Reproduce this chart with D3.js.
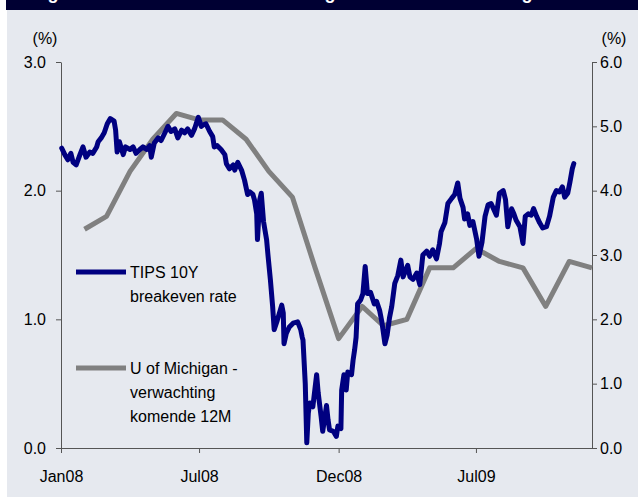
<!DOCTYPE html>
<html>
<head>
<meta charset="utf-8">
<script src="https://cdn.jsdelivr.net/npm/d3@7"></script>
<style>
  body { margin: 0; background: #fff; }
  svg { display: block; font-family: "Liberation Sans", Arial, sans-serif; }
</style>
</head>
<body>
<svg id="chart" width="638" height="499"></svg>
<script>
// TIPS 10Y breakeven rate (%), left axis
const tipsDates = [
  "2008-01-02","2008-01-06","2008-01-10","2008-01-14","2008-01-17","2008-01-21","2008-01-26","2008-01-30",
  "2008-02-03","2008-02-08","2008-02-12","2008-02-17","2008-02-19","2008-02-23","2008-02-27",
  "2008-03-02","2008-03-06","2008-03-11","2008-03-13","2008-03-15","2008-03-18","2008-03-23","2008-03-26",
  "2008-04-01","2008-04-05","2008-04-09","2008-04-14","2008-04-18","2008-04-23","2008-04-27","2008-04-29",
  "2008-05-03","2008-05-08","2008-05-12","2008-05-17","2008-05-21","2008-05-25","2008-05-30",
  "2008-06-03","2008-06-08","2008-06-12","2008-06-16","2008-06-21","2008-06-25","2008-06-30",
  "2008-07-04","2008-07-06","2008-07-10","2008-07-15","2008-07-19","2008-07-21","2008-07-25","2008-07-30",
  "2008-08-04","2008-08-06","2008-08-10","2008-08-15","2008-08-17","2008-08-21","2008-08-26","2008-08-30",
  "2008-09-03","2008-09-06","2008-09-10","2008-09-12","2008-09-15","2008-09-16","2008-09-19","2008-09-21",
  "2008-09-24","2008-09-28","2008-09-30",
  "2008-10-03","2008-10-06","2008-10-08","2008-10-12","2008-10-18","2008-10-20","2008-10-21","2008-10-24","2008-10-28",
  "2008-11-02","2008-11-08","2008-11-12","2008-11-14","2008-11-15","2008-11-18","2008-11-20","2008-11-22",
  "2008-11-24","2008-11-28",
  "2008-12-03","2008-12-05","2008-12-09","2008-12-11","2008-12-16","2008-12-18","2008-12-20","2008-12-25",
  "2008-12-29","2008-12-31",
  "2009-01-04","2009-01-05","2009-01-08","2009-01-11","2009-01-13","2009-01-18","2009-01-20","2009-01-22",
  "2009-01-24","2009-01-26","2009-01-30",
  "2009-02-02","2009-02-05","2009-02-08","2009-02-12","2009-02-17","2009-02-20","2009-02-24","2009-02-27",
  "2009-03-03","2009-03-06","2009-03-09","2009-03-12","2009-03-16","2009-03-20","2009-03-24","2009-03-27",
  "2009-04-02","2009-04-05","2009-04-09","2009-04-14","2009-04-18","2009-04-22","2009-04-27",
  "2009-05-01","2009-05-05","2009-05-10","2009-05-14","2009-05-16","2009-05-21","2009-05-25","2009-05-30",
  "2009-06-03","2009-06-07","2009-06-10","2009-06-14","2009-06-16","2009-06-20","2009-06-23","2009-06-27",
  "2009-07-02","2009-07-05","2009-07-09","2009-07-13","2009-07-17","2009-07-21","2009-07-28",
  "2009-08-01","2009-08-06","2009-08-09","2009-08-12","2009-08-17","2009-08-20","2009-08-23","2009-08-28",
  "2009-09-01","2009-09-04","2009-09-08","2009-09-12","2009-09-15","2009-09-19","2009-09-23","2009-09-27",
  "2009-10-02","2009-10-06","2009-10-11","2009-10-15","2009-10-19","2009-10-23","2009-10-26","2009-10-30",
  "2009-11-02","2009-11-05","2009-11-07"
];
const tipsValues = [
  2.33,2.28,2.24,2.29,2.22,2.20,2.28,2.34,
  2.26,2.30,2.29,2.34,2.38,2.41,2.45,
  2.52,2.56,2.54,2.47,2.30,2.38,2.28,2.34,
  2.32,2.34,2.29,2.32,2.34,2.32,2.35,2.26,
  2.37,2.41,2.39,2.45,2.50,2.46,2.48,
  2.41,2.47,2.45,2.48,2.43,2.48,2.57,
  2.50,2.51,2.52,2.46,2.42,2.34,2.35,2.32,
  2.28,2.21,2.17,2.20,2.16,2.22,2.16,2.08,
  1.97,1.99,1.97,1.93,1.82,1.62,1.93,1.98,
  1.76,1.62,1.49,
  1.31,1.10,0.92,0.99,1.11,1.05,0.81,0.89,0.94,
  0.97,0.98,0.92,0.86,0.84,0.50,0.04,0.27,
  0.35,0.32,
  0.57,0.43,0.24,0.13,0.33,0.22,0.14,0.13,
  0.09,0.17,
  0.15,0.45,0.57,0.45,0.59,0.57,0.68,0.76,
  0.86,1.12,1.15,
  1.20,1.41,1.20,1.21,1.12,1.14,1.07,0.98,
  0.81,0.88,1.01,1.10,1.28,1.34,1.46,1.33,
  1.42,1.33,1.31,1.36,1.27,1.50,1.53,
  1.49,1.54,1.47,1.59,1.68,1.75,1.90,1.94,
  1.97,2.06,1.94,1.87,1.78,1.82,1.73,1.76,
  1.62,1.49,1.60,1.80,1.89,1.90,1.81,
  1.98,2.00,1.93,1.72,1.86,1.82,1.77,1.72,
  1.59,1.80,1.82,1.81,1.86,1.80,1.75,1.71,
  1.72,1.80,1.95,2.00,1.99,2.03,1.95,1.98,
  2.07,2.17,2.21
];

// U of Michigan 12M inflation expectations (%), right axis, monthly
const michMonths = [
  "2008-01","2008-02","2008-03","2008-04","2008-05","2008-06","2008-07","2008-08","2008-09","2008-10","2008-11","2008-12",
  "2009-01","2009-02","2009-03","2009-04","2009-05","2009-06","2009-07","2009-08","2009-09","2009-10","2009-11"
];
const michValues = [3.4,3.6,4.3,4.8,5.2,5.1,5.1,4.8,4.3,3.9,2.8,1.7,2.2,1.9,2.0,2.8,2.8,3.1,2.9,2.8,2.2,2.9,2.8];

// Axis ticks
const xTickDates = ["2008-01-01","2008-07-01","2009-01-01","2009-07-01"];
const xTickLabels = ["Jan08","Jul08","Dec08","Jul09"];
const leftTicks = [0,1,2,3];
const rightTicks = [0,1,2,3,4,5,6];

const legendItems = [
  { lines: ["TIPS 10Y", "breakeven rate"], color: "#000080" },
  { lines: ["U of Michigan -", "verwachting", "komende 12M"], color: "#808080" }
];

const parseDay = d3.timeParse("%Y-%m-%d");
const parseMonth = d3.timeParse("%Y-%m");

const svg = d3.select("#chart");

// panel + header
svg.append("rect").attr("x", 7).attr("y", 0).attr("width", 631).attr("height", 497).attr("fill", "#e6e9ef");
svg.append("rect").attr("x", 6).attr("y", 0).attr("width", 632).attr("height", 10).attr("fill", "#000033");
svg.append("g").selectAll("text")
  .data([53, 330, 527])
  .enter().append("text")
  .attr("x", d => d).attr("y", -1)
  .attr("text-anchor", "middle")
  .attr("font-size", 18).attr("font-weight", "bold")
  .attr("fill", "#fff")
  .text("g");

const x = d3.scaleTime()
  .domain([parseDay("2008-01-01"), parseDay("2009-12-01")])
  .range([61, 592]);
const yL = d3.scaleLinear().domain([0, 3]).range([448, 62]);
const yR = d3.scaleLinear().domain([0, 6]).range([448, 62]);

// axes
const axisColor = "#555";
const styleAxis = g => {
  g.select(".domain").attr("stroke", axisColor);
  g.selectAll(".tick line").attr("stroke", axisColor);
  g.selectAll(".tick text").attr("fill", "#000").attr("font-size", 16);
  g.attr("font-family", null);
};

svg.append("g")
  .attr("transform", "translate(61,0)")
  .call(d3.axisLeft(yL).tickValues(leftTicks).tickFormat(d3.format(".1f"))
    .tickSize(5).tickSizeOuter(0).tickPadding(10))
  .call(styleAxis);

svg.append("g")
  .attr("transform", "translate(592,0)")
  .call(d3.axisRight(yR).tickValues(rightTicks).tickFormat(d3.format(".1f"))
    .tickSize(5).tickSizeOuter(0).tickPadding(3))
  .call(styleAxis);

svg.append("g")
  .attr("transform", "translate(0,448)")
  .call(d3.axisBottom(x).tickValues(xTickDates.map(parseDay))
    .tickFormat((d, i) => xTickLabels[i])
    .tickSize(5).tickSizeOuter(0).tickPadding(18))
  .call(styleAxis);

// unit labels
svg.append("text").attr("x", 45).attr("y", 38).attr("dy", "0.35em")
  .attr("text-anchor", "middle").attr("font-size", 16).text("(%)");
svg.append("text").attr("x", 614).attr("y", 38).attr("dy", "0.35em")
  .attr("text-anchor", "middle").attr("font-size", 16).text("(%)");

// lines
const michLine = d3.line()
  .x(d => x(d3.timeMonth.offset(parseMonth(d.m), 1)))
  .y(d => yR(d.v));
svg.append("path")
  .datum(michMonths.map((m, i) => ({ m, v: michValues[i] })))
  .attr("fill", "none")
  .attr("stroke", "#808080")
  .attr("stroke-width", 5)
  .attr("stroke-linejoin", "round")
  .attr("d", michLine);

const tipsLine = d3.line()
  .x(d => x(parseDay(d.t)))
  .y(d => yL(d.v));
svg.append("path")
  .datum(tipsDates.map((t, i) => ({ t, v: tipsValues[i] })))
  .attr("fill", "none")
  .attr("stroke", "#000080")
  .attr("stroke-width", 5)
  .attr("stroke-linejoin", "round")
  .attr("stroke-linecap", "round")
  .attr("d", tipsLine);

// legend
const legendY = [272, 368];
const legend = svg.append("g").attr("class", "legend");
legendItems.forEach((item, i) => {
  legend.append("line")
    .attr("x1", 76).attr("x2", 126)
    .attr("y1", legendY[i]).attr("y2", legendY[i])
    .attr("stroke", item.color).attr("stroke-width", 5);
  legend.append("text")
    .attr("x", 130).attr("y", legendY[i])
    .attr("font-size", 16)
    .selectAll("tspan")
    .data(item.lines)
    .enter().append("tspan")
    .attr("x", 130)
    .attr("dy", (d, j) => j === 0 ? "0.35em" : "1.5em")
    .text(d => d);
});
</script>
</body>
</html>
